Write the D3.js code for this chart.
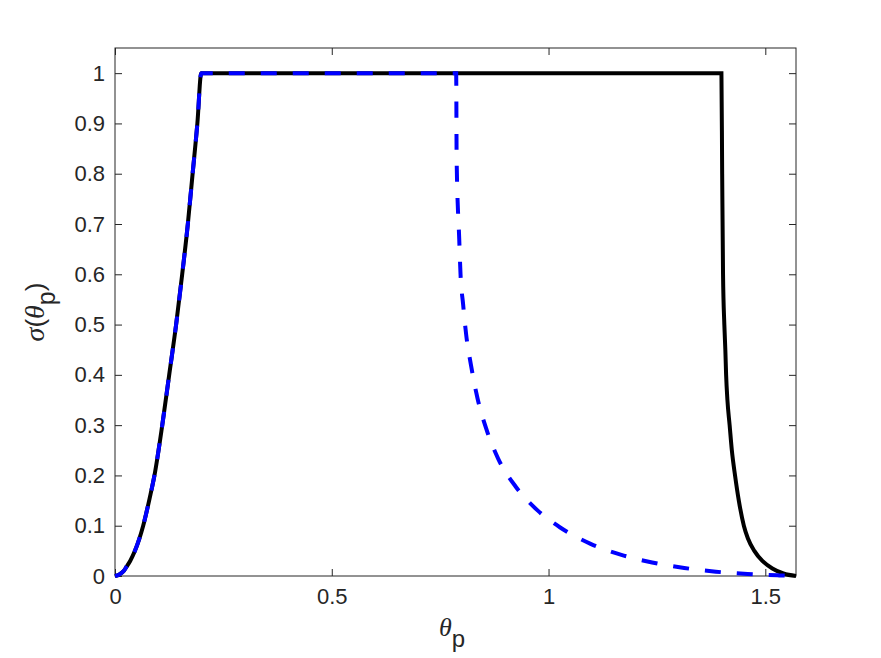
<!DOCTYPE html>
<html>
<head>
<meta charset="utf-8">
<script src="https://cdn.jsdelivr.net/npm/d3@7"></script>
<style>
  body { margin: 0; background: #fff; }
  svg { display: block; }
</style>
</head>
<body>
<svg id="chart" width="881" height="658"></svg>
<script>
// rising part, shared by both curves
const thetaRise = [0, 0.010, 0.020, 0.027, 0.035, 0.046, 0.065, 0.080, 0.091, 0.109, 0.125, 0.141, 0.155, 0.168, 0.179, 0.190, 0.199]
const sigmaRise = [0, 0.003, 0.010, 0.019, 0.030, 0.050, 0.100, 0.155, 0.200, 0.300, 0.400, 0.500, 0.600, 0.700, 0.800, 0.900, 1]

// black solid: drop near 1.4
const thetaBlack = [1.3988, 1.4005, 1.4025, 1.4055, 1.4078, 1.4096, 1.4126, 1.4177, 1.4228, 1.4302, 1.4389, 1.4505, 1.4597, 1.4747, 1.4932, 1.5163, 1.5417, 1.5708]
const sigmaBlack = [1, 0.80, 0.60, 0.50, 0.45, 0.40, 0.35, 0.30, 0.25, 0.20, 0.15, 0.10, 0.075, 0.050, 0.030, 0.015, 0.005, 0]

// blue dashed: drop near pi/4
const thetaBlue = [0.787, 0.788, 0.794, 0.797, 0.803, 0.810, 0.821, 0.836, 0.857, 0.884, 0.924, 0.974, 1.026, 1.097, 1.168, 1.239, 1.313, 1.386, 1.459, 1.532, 1.5708]
const sigmaBlue = [1, 0.83, 0.67, 0.60, 0.54, 0.48, 0.42, 0.354, 0.291, 0.233, 0.178, 0.131, 0.097, 0.064, 0.042, 0.027, 0.016, 0.0086, 0.004, 0.0012, 0]

const xTicks = [0, 0.5, 1, 1.5]
const yTicks = [0, 0.1, 0.2, 0.3, 0.4, 0.5, 0.6, 0.7, 0.8, 0.9, 1]

const svg = d3.select('#chart')
const box = { left: 115, right: 796, top: 48, bottom: 576 }
const axisColor = '#262626'
const tickFont = '"Liberation Sans", Arial, Helvetica, sans-serif'
const serif = '"Liberation Serif", "DejaVu Serif", serif'

const x = d3.scaleLinear().domain([0, Math.PI / 2]).range([box.left, box.right])
const y = d3.scaleLinear().domain([0, 1.05]).range([box.bottom, box.top])

function toPoints(ts, ss) {
  return ts.map((t, i) => [t, ss[i]])
}

const riseData = toPoints(thetaRise, sigmaRise)
const blackData = riseData.concat(toPoints(thetaBlack, sigmaBlack))
const blueData = riseData.concat(toPoints(thetaBlue, sigmaBlue))

const line = d3.line()
  .x((d) => x(d[0]))
  .y((d) => y(d[1]))
  .curve(d3.curveMonotoneX)

// axes, ticks pointing inward on all four sides
const tickLen = 7
const gx = svg.append('g').attr('transform', `translate(0,${box.bottom})`)
  .call(d3.axisBottom(x).tickValues(xTicks).tickSizeInner(-tickLen).tickSizeOuter(0).tickPadding(12)
    .tickFormat(d3.format('')))
const gxTop = svg.append('g').attr('transform', `translate(0,${box.top})`)
  .call(d3.axisTop(x).tickValues(xTicks).tickSizeInner(-tickLen).tickSizeOuter(0).tickFormat(''))
const gy = svg.append('g').attr('transform', `translate(${box.left},0)`)
  .call(d3.axisLeft(y).tickValues(yTicks).tickSizeInner(-tickLen).tickSizeOuter(0).tickPadding(10)
    .tickFormat(d3.format('')))
const gyRight = svg.append('g').attr('transform', `translate(${box.right},0)`)
  .call(d3.axisRight(y).tickValues(yTicks).tickSizeInner(-tickLen).tickSizeOuter(0).tickFormat(''))

;[gx, gxTop, gy, gyRight].forEach((g) => {
  g.select('.domain').remove()
  g.selectAll('line').attr('stroke', axisColor).attr('stroke-width', 1)
  g.selectAll('text').attr('fill', axisColor).style('font-family', tickFont).style('font-size', '22px')
})
gx.selectAll('text').attr('dy', '0.71em')

svg.append('rect')
  .attr('x', box.left).attr('y', box.top)
  .attr('width', box.right - box.left).attr('height', box.bottom - box.top)
  .attr('fill', 'none').attr('stroke', axisColor).attr('stroke-width', 1)

// curves
svg.append('path')
  .datum(blackData)
  .attr('d', line)
  .attr('fill', 'none')
  .attr('stroke', '#000')
  .attr('stroke-width', 4)

svg.append('path')
  .datum(blueData)
  .attr('d', line)
  .attr('fill', 'none')
  .attr('stroke', '#0000ff')
  .attr('stroke-width', 4)
  .attr('stroke-dasharray', '16,16')

// axis labels
const xl = svg.append('text')
  .attr('x', 452).attr('y', 636)
  .attr('text-anchor', 'middle')
  .attr('fill', axisColor)
xl.append('tspan').text('θ')
  .style('font-family', serif).style('font-style', 'italic').style('font-size', '26px')
xl.append('tspan').text('p').attr('dy', 11)
  .style('font-family', tickFont).style('font-size', '24px')

const yl = svg.append('text')
  .attr('transform', 'translate(44,312) rotate(-90)')
  .attr('text-anchor', 'middle')
  .attr('fill', axisColor)
yl.append('tspan').text('σ')
  .style('font-family', serif).style('font-style', 'italic').style('font-size', '28px')
yl.append('tspan').text('(')
  .style('font-family', tickFont).style('font-size', '26px')
yl.append('tspan').text('θ')
  .style('font-family', serif).style('font-style', 'italic').style('font-size', '28px')
yl.append('tspan').text('p').attr('dy', 11)
  .style('font-family', tickFont).style('font-size', '25px')
yl.append('tspan').text(')').attr('dy', -11)
  .style('font-family', tickFont).style('font-size', '26px')
</script>
</body>
</html>
